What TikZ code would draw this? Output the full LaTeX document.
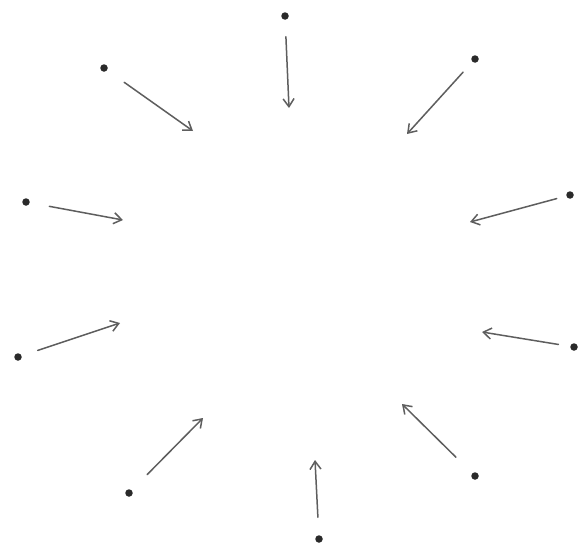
\documentclass[tikz,border=0pt]{standalone}
\usepackage{tikz}
\usetikzlibrary{arrows.meta}
\definecolor{ink}{HTML}{2A2A2A}
\definecolor{pencil}{HTML}{5E5E5E}

\begin{document}
\begin{tikzpicture}[x=1pt, y=-1pt,
    pt/.style={circle, fill=ink, inner sep=0pt, outer sep=0pt, minimum size=7.5pt},
    arr/.style={-{Straight Barb[length=8pt, width=11pt, line width=1.5pt]},
      line width=1.5pt, pencil, line cap=round},
  ]
  \useasboundingbox[fill=white] (0,0) rectangle (580,546);
  % the points round the ring
  \node[pt] (top) at (285,16) {};
  \node[pt] (nw) at (104,68) {};
  \node[pt] (ne) at (475,59) {};
  \node[pt] (wnw) at (26,202) {};
  \node[pt] (ene) at (570,195) {};
  \node[pt] (wsw) at (18,357) {};
  \node[pt] (ese) at (574,347) {};
  \node[pt] (sw) at (129,493) {};
  \node[pt] (se) at (475,476) {};
  \node[pt] (bot) at (319,539) {};
  % where the arrows end
  \coordinate (top-t) at (289,108);
  \coordinate (nw-t) at (193,131);
  \coordinate (ne-t) at (407,134);
  \coordinate (wnw-t) at (123,220);
  \coordinate (ene-t) at (470,222);
  \coordinate (wsw-t) at (120,323);
  \coordinate (ese-t) at (482,332);
  \coordinate (sw-t) at (203,418);
  \coordinate (se-t) at (402,404);
  \coordinate (bot-t) at (315,460);
  % arrows pointing in
  \draw[arr, shorten <=17pt] (top) -- (top-t);
  \draw[arr, shorten <=21pt] (nw) -- (nw-t);
  \draw[arr, shorten <=14pt] (ne) -- (ne-t);
  \draw[arr, shorten <=20pt] (wnw) -- (wnw-t);
  \draw[arr, shorten <=10pt] (ene) -- (ene-t);
  \draw[arr, shorten <=17pt] (wsw) -- (wsw-t);
  \draw[arr, shorten <=12pt] (ese) -- (ese-t);
  \draw[arr, shorten <=22pt] (sw) -- (sw-t);
  \draw[arr, shorten <=23pt] (se) -- (se-t);
  \draw[arr, shorten <=18pt] (bot) -- (bot-t);
\end{tikzpicture}
\end{document}
